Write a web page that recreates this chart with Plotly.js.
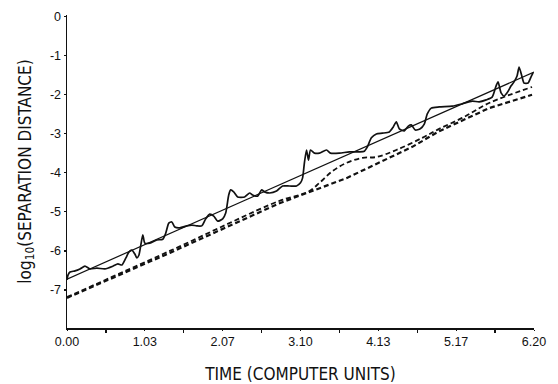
<!DOCTYPE html>
<html>
<head>
<meta charset="utf-8">
<script src="https://cdn.plot.ly/plotly-3.0.1.min.js"></script>
<style>html,body{margin:0;padding:0;background:#fff;}#chart{width:558px;height:384px;}</style>
</head>
<body>
<div id="chart"></div>
<script>
// Measured separation (wiggly solid curve)
const measT = [0.000,0.013,0.040,0.106,0.172,0.238,0.305,0.397,0.503,0.609,0.676,0.729,0.782,0.821,0.861,0.901,0.927,0.954,0.980,1.007,1.033,1.100,1.192,1.272,1.312,1.351,1.391,1.431,1.497,1.590,1.656,1.722,1.789,1.842,1.895,1.948,2.001,2.067,2.107,2.147,2.173,2.213,2.266,2.358,2.425,2.464,2.531,2.584,2.623,2.690,2.782,2.862,2.954,3.047,3.100,3.127,3.153,3.180,3.206,3.233,3.286,3.352,3.445,3.498,3.617,3.749,3.882,3.948,3.988,4.041,4.107,4.187,4.279,4.332,4.372,4.412,4.478,4.531,4.571,4.624,4.690,4.743,4.783,4.836,4.942,5.114,5.247,5.379,5.472,5.565,5.644,5.697,5.723,5.763,5.803,5.843,5.896,5.935,5.975,6.002,6.041,6.068,6.121,6.161,6.187];
const measV = [-6.74,-6.62,-6.54,-6.51,-6.46,-6.39,-6.46,-6.44,-6.46,-6.39,-6.33,-6.36,-6.18,-6.03,-5.98,-6.08,-6.18,-6.11,-5.85,-5.59,-5.80,-5.80,-5.72,-5.70,-5.54,-5.29,-5.26,-5.39,-5.41,-5.36,-5.34,-5.36,-5.36,-5.18,-5.06,-5.11,-5.24,-5.18,-5.03,-4.57,-4.44,-4.49,-4.62,-4.62,-4.52,-4.57,-4.60,-4.44,-4.49,-4.52,-4.47,-4.34,-4.34,-4.34,-4.26,-4.14,-3.73,-3.42,-3.68,-3.42,-3.50,-3.50,-3.42,-3.50,-3.50,-3.47,-3.47,-3.45,-3.34,-3.11,-3.01,-2.99,-2.96,-2.83,-2.70,-2.88,-2.93,-2.81,-2.78,-2.91,-2.88,-2.76,-2.50,-2.35,-2.32,-2.30,-2.24,-2.17,-2.19,-2.14,-2.07,-1.78,-1.68,-1.96,-2.04,-1.96,-1.78,-1.68,-1.53,-1.30,-1.55,-1.71,-1.71,-1.55,-1.45];

// Straight-line fit
const fitT = [0, 6.2];
const fitV = [-6.72, -1.43];

// Dashed curve A (lower)
const dashAT = [0, 1.365, 2.822, 3.710, 4.584, 4.942, 5.604, 6.174];
const dashAV = [-7.20, -6.05, -4.78, -4.14, -3.34, -2.94, -2.35, -2.01];

// Dashed curve B (upper)
const dashBT = [0, 1.365, 2.822, 3.087, 3.219, 3.352, 3.524, 3.710, 3.922, 4.107, 4.372, 4.717, 4.942, 5.247, 5.604, 6.174];
const dashBV = [-7.18, -6.00, -4.72, -4.57, -4.47, -4.26, -3.96, -3.75, -3.62, -3.60, -3.42, -3.11, -2.88, -2.60, -2.22, -1.81];

// Axis ticks
const xTickVals = [0, 1.0333, 2.0667, 3.10, 4.1333, 5.1667, 6.20];
const xTickText = ["0.00", "1.03", "2.07", "3.10", "4.13", "5.17", "6.20"];
const xMinorVals = [0.5167, 1.55, 2.5833, 3.6167, 4.65, 5.6833];
const yTickVals = [0, -1, -2, -3, -4, -5, -6, -7];
const yTickText = ["0", "-1", "-2", "-3", "-4", "-5", "-6", "-7"];

const traces = [
  {x: dashAT, y: dashAV, mode: 'lines', line: {color: '#111', width: 2.2, dash: '5px,3px'}, hoverinfo: 'skip'},
  {x: dashBT, y: dashBV, mode: 'lines', line: {color: '#111', width: 1.8, dash: '5px,3px', shape: 'spline'}, hoverinfo: 'skip'},
  {x: fitT, y: fitV, mode: 'lines', line: {color: '#111', width: 1.2}, hoverinfo: 'skip'},
  {x: measT, y: measV, mode: 'lines', line: {color: '#111', width: 1.7, shape: 'spline', smoothing: 0.6}, hoverinfo: 'skip'}
];

const titleFont = {family: '"Liberation Sans Narrow", "DejaVu Sans Condensed", "Arial Narrow", sans-serif', size: 17, color: '#111'};
const tickFont = {family: '"Liberation Sans", Arial, sans-serif', size: 12.5, color: '#111'};

const layout = {
  width: 558, height: 384,
  margin: {l: 67, r: 24, t: 15, b: 56},
  paper_bgcolor: '#fff', plot_bgcolor: '#fff',
  showlegend: false,
  xaxis: {
    range: [0, 6.2], showgrid: false, zeroline: false,
    showline: true, linecolor: '#111', linewidth: 1.5,
    ticks: 'outside', ticklen: 1, tickwidth: 1, tickcolor: '#111',
    tickmode: 'array', tickvals: xTickVals, ticktext: xTickText,
    minor: {tickmode: 'array', tickvals: xMinorVals, ticks: 'outside', ticklen: 3, tickwidth: 1.2, tickcolor: '#111', showgrid: false},
    tickfont: tickFont,
    title: {text: 'TIME (COMPUTER UNITS)', font: titleFont, standoff: 20}
  },
  yaxis: {
    range: [-7.97, 0.03], showgrid: false, zeroline: false,
    showline: true, linecolor: '#111', linewidth: 1.5,
    ticks: 'outside', ticklen: 2, tickwidth: 1.2, tickcolor: '#111',
    tickmode: 'array', tickvals: yTickVals, ticktext: yTickText,
    tickfont: tickFont,
    title: {text: 'log<sub>10</sub>(SEPARATION DISTANCE)', font: titleFont, standoff: 14}
  }
};

Plotly.newPlot('chart', traces, layout, {staticPlot: true, displayModeBar: false});
</script>
</body>
</html>
